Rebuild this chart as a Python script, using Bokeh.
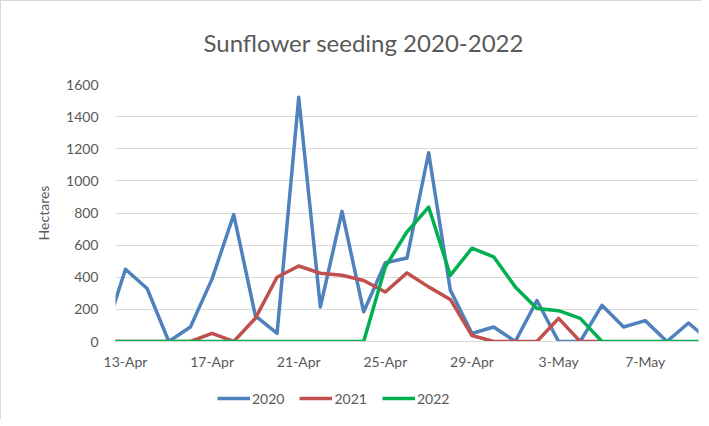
from bokeh.plotting import figure
from bokeh.layouts import column
from bokeh.models import ColumnDataSource, FixedTicker, Legend, LegendItem, Range1d
from bokeh.embed import file_html
from bokeh.resources import INLINE

# Days from 12-Apr to 10-May
dates = ["12-Apr", "13-Apr", "14-Apr", "15-Apr", "16-Apr", "17-Apr", "18-Apr", "19-Apr",
         "20-Apr", "21-Apr", "22-Apr", "23-Apr", "24-Apr", "25-Apr", "26-Apr", "27-Apr",
         "28-Apr", "29-Apr", "30-Apr", "1-May", "2-May", "3-May", "4-May", "5-May",
         "6-May", "7-May", "8-May", "9-May", "10-May"]
tick_labels = ["13-Apr", "17-Apr", "21-Apr", "25-Apr", "29-Apr", "3-May", "7-May"]
y_ticks = [0, 200, 400, 600, 800, 1000, 1200, 1400, 1600]

s2020 = [30, 450, 330, 0, 90, 390, 790, 160, 50, 1520, 215, 810, 185, 490, 520, 1175,
         320, 50, 90, 0, 255, 0, 0, 225, 90, 130, 0, 115, 0]
s2021 = [0, 0, 0, 0, 0, 50, 0, 145, 400, 470, 425, 412, 380, 308, 427, 340,
         262, 37, 0, 0, 0, 144, 0, 0, None, None, None, None, None]
s2022 = [0, 0, 0, 0, 0, 0, 0, 0, 0, 0, 0, 0, 0, 465, 683, 837,
         412, 581, 527, 340, 206, 192, 144, 0, 0, 0, 0, 0, 0]

series = [("2020", s2020, "#4F81BD"), ("2021", s2021, "#C0504D"), ("2022", s2022, "#00B050")]

FONT = "Lato"
TXT = "#595959"

x = list(range(len(dates)))

p = figure(width=700, height=385, output_backend="svg", toolbar_location=None,
           x_range=Range1d(0.54, len(dates) - 1.54), y_range=Range1d(0, 1600),
           min_border_left=114, min_border_right=3, min_border_top=83, min_border_bottom=45)

p.title.text = "Sunflower seeding 2020-2022"
p.title.text_font = FONT
p.title.text_font_size = "24px"
p.title.text_font_style = "normal"
p.title.text_color = TXT
p.title.align = "left"
p.title.offset = 88
p.title.vertical_align = "top"
p.title.text_line_height = 0.8
p.title.standoff = 52

sources = []
for name, vals, col in series:
    ys = [float("nan") if v is None else v for v in vals]
    src = ColumnDataSource(dict(x=x, y=ys))
    sources.append(src)
    p.line("x", "y", source=src, line_color=col, line_width=3.5, line_join="round")

p.xaxis.ticker = FixedTicker(ticks=[dates.index(t) for t in tick_labels])
p.xaxis.major_label_overrides = {dates.index(t): t for t in tick_labels}
p.yaxis.ticker = FixedTicker(ticks=y_ticks)

for ax in (p.xaxis, p.yaxis):
    ax.major_tick_line_color = None
    ax.minor_tick_line_color = None
    ax.major_tick_in = 0
    ax.major_tick_out = 0
    ax.minor_tick_out = 0
    ax.major_label_text_font = FONT
    ax.major_label_text_font_size = "14px"
    ax.major_label_text_color = TXT
p.yaxis.axis_line_color = None
p.xaxis.axis_line_color = "#d9d9d9"
p.xaxis.major_label_standoff = 11
p.yaxis.major_label_standoff = 17

p.yaxis.axis_label = "Hectares"
p.yaxis.axis_label_text_font = FONT
p.yaxis.axis_label_text_font_size = "14px"
p.yaxis.axis_label_text_font_style = "normal"
p.yaxis.axis_label_text_color = TXT
p.yaxis.axis_label_standoff = 11

p.xgrid.grid_line_color = None
p.ygrid.grid_line_color = "#d9d9d9"
p.ygrid.grid_line_width = 1
p.outline_line_color = None

# Legend strip below the chart (same series, ranges kept out of view)
lf = figure(width=700, height=33, output_backend="svg", toolbar_location=None,
            x_axis_type=None, y_axis_type=None,
            x_range=Range1d(-100, -99), y_range=Range1d(-100, -99),
            min_border_left=0, min_border_right=0, min_border_top=0, min_border_bottom=0)
lf.outline_line_color = None
lf.grid.grid_line_color = None
items = []
for (name, vals, col), src in zip(series, sources):
    r = lf.line("x", "y", source=src, line_color=col, line_width=3.5)
    items.append(LegendItem(label=name, renderers=[r]))
legend = Legend(items=items, orientation="horizontal", location=(102, 12),
                glyph_width=33, glyph_height=18, label_standoff=2, spacing=15,
                padding=0, margin=0, border_line_color=None, background_fill_alpha=0,
                label_text_font=FONT, label_text_font_size="14px", label_text_color=TXT)
lf.add_layout(legend, "center")

layout = column(p, lf, spacing=0)
layout.styles = {"border-top": "1px solid #d9d9d9", "border-left": "1px solid #d9d9d9"}

open("out.html", "w").write(file_html(layout, INLINE))
